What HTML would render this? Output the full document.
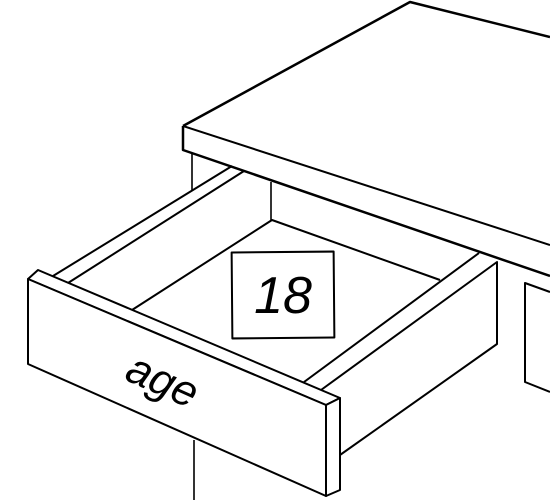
<!DOCTYPE html>
<html><head><meta charset="utf-8"><style>
html,body{margin:0;padding:0;background:#fff;}
svg{display:block;}
</style></head><body>
<svg width="550" height="500" viewBox="0 0 550 500" xmlns="http://www.w3.org/2000/svg">
<g fill="none" stroke="#000" stroke-width="2" stroke-linejoin="round">
  <g>
    <path d="M183,126 L410,2 L550,37" stroke-width="2.5"/>
    <path d="M183,126 L550,245"/>
    <path d="M183,126 L183,150 L550,276" stroke-width="2.5"/>
  </g>
  <g stroke-width="1.6">
    <line x1="192" y1="153" x2="192" y2="191"/>
    <line x1="271" y1="182" x2="271" y2="220"/>
    <line x1="194" y1="440" x2="194" y2="500"/>
  </g>
  <g>
    <path d="M550,292 L525,283 L525,382 L550,392"/>
  </g>
  <g>
    <path d="M132,310 L272,220 L440,280"/>
    <path d="M53,276 L232,166"/>
    <path d="M68,283 L244,171"/>
    <path d="M304,382 L479,253"/>
    <path d="M321,390 L497,262 L497,344 L340,455"/>
  </g>
  <g fill="#fff">
    <path d="M28,279 L38,270 L340,398 L326,405 Z"/>
    <path d="M28,279 L326,405 L326,496 L28,364 Z"/>
    <path d="M326,405 L340,398 L340,490 L326,496 Z"/>
  </g>
  <rect x="232" y="252" width="102" height="86" fill="#fff" transform="rotate(-0.5 283 295)"/>
</g>
<text x="283" y="313" text-anchor="middle" font-family="'Liberation Sans', sans-serif" font-size="52" font-style="italic">18</text>
<text x="162" y="395" text-anchor="middle" font-family="'Liberation Sans', sans-serif" font-size="44" font-style="italic" transform="rotate(24 162 382)">age</text>
</svg>
</body></html>
